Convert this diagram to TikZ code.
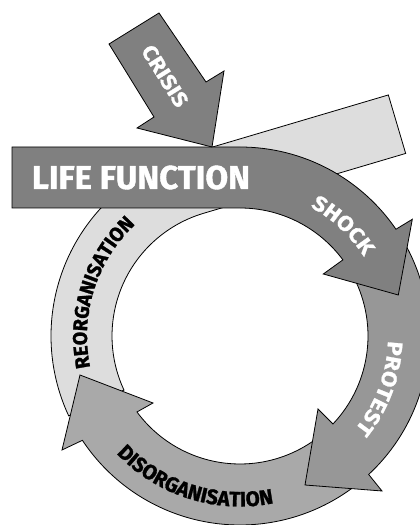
\documentclass[tikz,border=0pt]{standalone}
\usepackage{fontspec}
\usetikzlibrary{decorations.text}
\newfontfamily\labfont{Fira Sans}[FakeStretch=1.12, FakeBold=1.2]
\newfontfamily\ringfont{Fira Sans}[FakeStretch=0.98, FakeBold=1.2]
\newfontfamily\bigfont{Fira Sans}[FakeBold=1.2]
\definecolor{cdark}{HTML}{808080}
\definecolor{cprot}{HTML}{979797}
\definecolor{cdis}{HTML}{A9A9A9}
\definecolor{creo}{HTML}{DDDDDD}
\tikzset{
  band/.style={draw=black, line width=0.8pt, line join=miter},
  life/.style={band, fill=cdark},
  protest/.style={band, fill=cprot},
  disorg/.style={band, fill=cdis},
  reorg/.style={band, fill=creo},
  arclabel/.style={decorate, decoration={text along path, text align=center, text color=#1}},
}
\begin{document}
\begin{tikzpicture}[x=1pt,y=1pt]
\useasboundingbox (0,0) rectangle (420,525);
\begin{scope}[shift={(240,189)}]
% reorganisation (light) band with straight tangent strip
\draw[reorg] (205:189) arc[start angle=205, end angle=106.5, radius=189]
  -- ++(16.5:210.7) -- ([shift={(16.5:210.7)}]106.5:128)
  -- (106.5:128) arc[start angle=106.5, end angle=205, radius=128] -- cycle;
% disorganisation
\draw[disorg] (-52:189) arc[start angle=-52, end angle=-146.5, radius=189]
  -- (-178,-114) -- (-160,-39) -- (-87,-67)
  -- (-143.6:128) arc[start angle=-143.6, end angle=-52, radius=128] -- cycle;
% protest
\draw[protest] (30:189) arc[start angle=30, end angle=-47.1, radius=189]
  -- (142,-155) -- (65,-149) -- (78,-73)
  -- (-43.4:128) arc[start angle=-43.4, end angle=30, radius=128] -- cycle;
% life function / shock
\draw[life] (-228,189) -- (0,189) arc[start angle=90, end angle=34.4, radius=189]
  -- (172.3,116.7) -- (158.3,41) -- (83.3,62)
  -- (36.5:128) arc[start angle=36.5, end angle=90, radius=128]
  -- (-228,128) -- cycle;
% crisis arrow
\draw[life] (-131,292) -- (-81,323) -- (-34,254) -- (-16,265) -- (-28,189)
  -- (-103,208) -- (-86,219) -- cycle;
% labels
\node[text=white, font=\bigfont\bfseries\fontsize{33}{33}\selectfont, inner sep=0pt] (lf) at (-99,158.5) {LIFE FUNCTION};
\node[text=white, font=\labfont\bfseries\fontsize{21}{21}\selectfont, inner sep=0pt, rotate=-58] (crisis) at (-75,260) {CRISIS};
\path[arclabel=white, decoration={text={|\labfont\bfseries\fontsize{21}{21}\selectfont|SHOCK}}]
  (92:147) arc[start angle=92, end angle=2, radius=147];
\path[arclabel=white, decoration={text={|\labfont\bfseries\fontsize{21}{21}\selectfont|PROTEST}}]
  (25:148) arc[start angle=25, end angle=-66, radius=148];
\path[arclabel=black, decoration={text={|\ringfont\bfseries\fontsize{21}{21}\selectfont|DISORGANISATION}}]
  (207.5:170.5) arc[start angle=207.5, end angle=297.5, radius=170.5];
\path[arclabel=black, decoration={text={|\ringfont\bfseries\fontsize{20}{20}\selectfont|REORGANISATION}}]
  (217.5:153) arc[start angle=217.5, end angle=107.5, radius=153];
\end{scope}
\end{tikzpicture}
\end{document}
